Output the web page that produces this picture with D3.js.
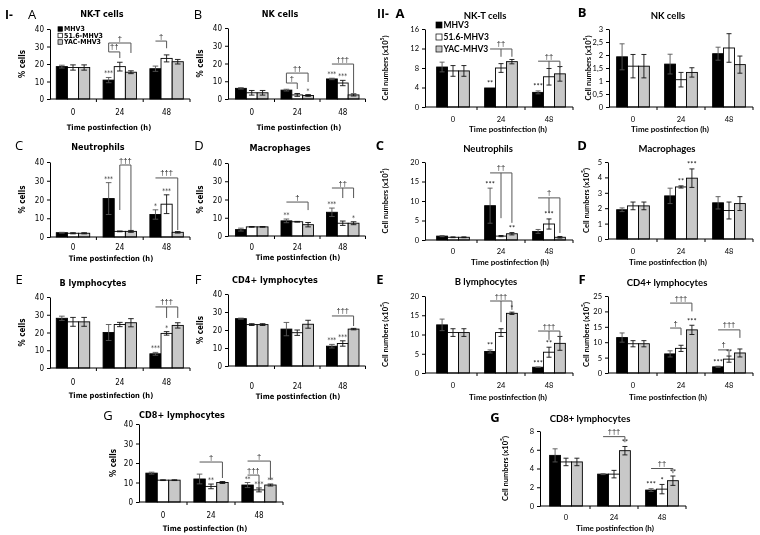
<!DOCTYPE html>
<html><head><meta charset="utf-8">
<script src="https://cdn.jsdelivr.net/npm/d3@7"></script>
<style>body{margin:0;background:#fff}svg{display:block;filter:grayscale(100%)}</style>
</head><body>
<svg id="fig" width="760" height="535"></svg>
<script>
// ---------- DATA ----------
const categories = ["0", "24", "48"];
const seriesNames = ["MHV3", "51.6-MHV3", "YAC-MHV3"];
// rows: 0, 24, 48 h ; columns: MHV3, 51.6-MHV3, YAC-MHV3
const pctNKT     = [[18.5, 18, 18], [10.8, 18.5, 15.3], [17.3, 23.2, 21.3]];
const pctNKTErr  = [[0.8, 1.5, 1.5], [1.5, 2.5, 0.8], [1.5, 2, 1.3]];
const pctNK      = [[6, 3.5, 3.5], [5, 2.3, 2], [11.3, 9, 2.3]];
const pctNKErr   = [[0.4, 1.3, 1.3], [0.5, 0.8, 0.5], [0.4, 1.5, 0.6]];
const pctNeu     = [[2.3, 2, 2], [20.5, 3, 3], [12, 17.5, 2.5]];
const pctNeuErr  = [[0.2, 0.3, 0.3], [8.5, 0.2, 0.5], [2.5, 5, 0.4]];
const pctMac     = [[3.5, 5, 5], [8.3, 7.8, 6.2], [13, 7, 7]];
const pctMacErr  = [[0.8, 0.2, 0.2], [1, 0.2, 1.2], [2.3, 1.2, 0.8]];
const pctB       = [[28, 26, 26], [20, 24.5, 25.5], [8, 19.5, 24]];
const pctBErr    = [[1.2, 2.5, 2.5], [4.5, 1.2, 2.3], [0.8, 1, 1.5]];
const pctCD4     = [[26.3, 23, 23], [20.5, 18.5, 23.2], [11, 12.5, 20.5]];
const pctCD4Err  = [[0.3, 0.5, 0.5], [3.7, 1.5, 2.2], [1, 1.5, 0.4]];
const pctCD8     = [[14.8, 11.2, 11.2], [11.8, 8, 10], [8.7, 6.2, 8.7]];
const pctCD8Err  = [[0.5, 0.2, 0.2], [2.5, 1.2, 0.5], [1.3, 1, 0.5]];

const numNKT     = [[8.2, 7.4, 7.4], [3.9, 8, 9.3], [3, 6.2, 6.8]];
const numNKTErr  = [[1, 1.1, 1.1], [0, 0.9, 0.45], [0.3, 1.7, 1.5]];
const numNK      = [[1.93, 1.57, 1.57], [1.65, 1.05, 1.33], [2.05, 2.27, 1.63]];
const numNKErr   = [[0.5, 0.45, 0.45], [0.38, 0.28, 0.18], [0.25, 0.55, 0.33]];
const numNeu     = [[1.0, 0.7, 0.7], [8.8, 1.0, 1.6], [2.2, 4.1, 0.7]];
const numNeuErr  = [[0.15, 0.1, 0.1], [4.5, 0.15, 0.3], [0.5, 1.3, 0.2]];
const numMac     = [[1.9, 2.15, 2.15], [2.8, 3.38, 3.95], [2.35, 1.85, 2.3]];
const numMacErr  = [[0.12, 0.25, 0.25], [0.5, 0.07, 0.6], [0.4, 0.55, 0.45]];
const numB       = [[12.5, 10.5, 10.5], [5.6, 10.5, 15.5], [1.5, 5.4, 7.7]];
const numBErr    = [[1.5, 1, 1], [0.4, 1, 0.3], [0.05, 1.3, 1.8]];
const numCD4     = [[11.5, 9.5, 9.5], [6.2, 8, 14], [2, 4.5, 6.5]];
const numCD4Err  = [[1.5, 1, 1], [1, 1, 1.5], [0.2, 1, 1.3]];
const numCD8     = [[5.4, 4.7, 4.7], [3.4, 3.4, 5.9], [1.7, 1.8, 2.7]];
const numCD8Err  = [[0.7, 0.4, 0.4], [0.05, 0.4, 0.45], [0.15, 0.5, 0.5]];

// significance marks: [timeIndex, seriesIndex, text]
const starsIA = [[1, 0, "***"]];
const starsIB = [[1, 2, "*"], [2, 0, "***"], [2, 1, "***"]];
const starsIC = [[1, 0, "***"], [2, 0, "*"], [2, 1, "***"]];
const starsID = [[1, 0, "**"], [2, 0, "***"], [2, 2, "*"]];
const starsIE = [[2, 0, "***"], [2, 1, "*"]];
const starsIF = [[2, 0, "***"], [2, 1, "***"]];
const starsIG = [[1, 1, "**"], [2, 0, "**"], [2, 1, "***"], [2, 2, "**"]];
const starsIIA = [[1, 0, "**"], [2, 0, "***"]];
const starsIIB = [];
const starsIIC = [[1, 0, "***"], [1, 2, "**"], [2, 1, "***"]];
const starsIID = [[1, 1, "**"], [1, 2, "***"]];
const starsIIE = [[1, 0, "**"], [1, 2, "*"], [2, 0, "***"], [2, 1, "**"]];
const starsIIF = [[1, 2, "***"], [2, 0, "***"], [2, 1, "**"]];
const starsIIG = [[1, 2, "**"], [2, 0, "***"], [2, 1, "*"], [2, 2, "**"]];

// comparison brackets: [timeIndex, fromSeries, toSeries, level, label, [[series, dropTo], ...]]
const bracketsIA = [[1, 0, 2, 32, "\u2020", [[2, 26.3], [0, 26.9]]], [1, 0, 1, 26.9, "\u2020\u2020", [[1, 23.4]]], [2, 0, 1, 33.1, "\u2020", [[1, 29]]]];
const bracketsIB = [[1, 0, 1, 9, "\u2020", [[1, 5.6]]], [1, 0, 2, 14.6, "\u2020\u2020", [[2, 9.6], [0, 9]]], [2, 0, 2, 19.7, "\u2020\u2020\u2020", [[2, 3.4]]]];
const bracketsIC = [[1, 1, 2, 38.4, "\u2020\u2020\u2020", [[1, 14.4], [2, 3.7]]], [2, 0, 2, 31.5, "\u2020\u2020\u2020", [[2, 3.7]]]];
const bracketsID = [[1, 0, 2, 18.6, "\u2020", [[2, 14.2]]], [2, 0, 2, 26.3, "\u2020\u2020", [[1, 20.8], [2, 20.8]]]];
const bracketsIE = [[2, 0, 2, 34.4, "\u2020\u2020\u2020", [[1, 28.2], [2, 28.2]]]];
const bracketsIF = [[2, 0, 2, 27.8, "\u2020\u2020\u2020", [[2, 22.2]]]];
const bracketsIG = [[1, 0, 2, 20.5, "\u2020", [[2, 12.3]]], [2, 0, 2, 21, "\u2020", [[2, 11.3]]], [2, 0, 1, 13.8, "\u2020\u2020\u2020", [[1, 7.2]]]];
const bracketsIIA = [[1, 0, 2, 11.9, "\u2020\u2020", [[1, 10.3], [2, 10.3]]], [2, 0, 2, 9.4, "\u2020\u2020", [[1, 8], [2, 8]]]];
const bracketsIIB = [];
const bracketsIIC = [[1, 0, 2, 17.2, "\u2020\u2020", [[1, 5.6], [2, 4.4]]], [2, 0, 2, 10.8, "\u2020", [[1, 6.9], [2, 1.8]]]];
const bracketsIID = [];
const bracketsIIE = [[1, 0, 2, 18.7, "\u2020\u2020\u2020", [[1, 13.2], [2, 16.4]]], [2, 0, 2, 10.9, "\u2020\u2020\u2020", [[1, 8.6], [2, 8.6]]]];
const bracketsIIF = [[1, 0, 2, 22.7, "\u2020\u2020\u2020", [[2, 20]]], [1, 0, 1, 14.6, "\u2020", [[1, 12.3]]], [2, 0, 2, 14, "\u2020\u2020\u2020", [[2, 11.4]]], [2, 0, 1, 7.5, "\u2020", [[1, 5.5]]]];
const bracketsIIG = [[1, 0, 2, 7.4, "\u2020\u2020\u2020", [[2, 6.8]]], [2, 0, 2, 4, "\u2020\u2020", [[2, 3.5]]]];

const yTicksPct = [0, 10, 20, 30, 40];
const yTicksNKT = [0, 4, 8, 12, 16];
const yTicksNK = [0, 0.5, 1, 1.5, 2, 2.5, 3];
const yTicksNeu = [0, 5, 10, 15, 20];
const yTicksMac = [0, 1, 2, 3, 4, 5];
const yTicksB = [0, 5, 10, 15, 20];
const yTicksCD4 = [0, 5, 10, 15, 20, 25];
const yTicksCD8 = [0, 2, 4, 6, 8];

// ---------- LAYOUT ----------
const FONT_I = '"Liberation Sans Narrow","DejaVu Sans Condensed","Arial Narrow",sans-serif';
const FONT_II = 'Lato,"Open Sans",sans-serif';
const FONT_DAG = '"Liberation Sans","DejaVu Sans",sans-serif';
const FILLS = ["#000000", "#ffffff", "#c8c8c8"];

const panels = [
  {st:"I", mean:pctNKT, err:pctNKTErr, ticks:yTicksPct, ax:50, bx:[49.6,190], yTop:29, yBot:99, title:"NK-T cells", tx:102, ty:14, letter:"A", lx:32, ly:14, ylx:22, tly:112, xlx:109, xly:127, stars:starsIA, br:bracketsIA, legend:true, roman:"I-", rx:9},
  {st:"I", mean:pctNK, err:pctNKErr, ticks:yTicksPct, ax:228, bx:[229,365.5], yTop:28, yBot:99, title:"NK cells", tx:280, ty:14, letter:"B", lx:198, ly:14, ylx:200, tly:112, xlx:299, xly:127, stars:starsIB, br:bracketsIB},
  {st:"I", mean:pctNeu, err:pctNeuErr, ticks:yTicksPct, ax:50, bx:[49.6,190], yTop:162, yBot:237, title:"Neutrophils", tx:98, ty:147, letter:"C", lx:19, ly:145, ylx:22, tly:247, xlx:111, xly:258, stars:starsIC, br:bracketsIC},
  {st:"I", mean:pctMac, err:pctMacErr, ticks:yTicksPct, ax:228, bx:[229,365.5], yTop:163, yBot:236, title:"Macrophages", tx:280, ty:148, letter:"D", lx:199, ly:145, ylx:200, tly:247, xlx:298, xly:257, stars:starsID, br:bracketsID},
  {st:"I", mean:pctB, err:pctBErr, ticks:yTicksPct, ax:50, bx:[49.6,190], yTop:297, yBot:368, title:"B lymphocytes", tx:93, ty:283, letter:"E", lx:19, ly:279, ylx:22, tly:382, xlx:111, xly:395, stars:starsIE, br:bracketsIE},
  {st:"I", mean:pctCD4, err:pctCD4Err, ticks:yTicksPct, ax:228, bx:[229,365.5], yTop:294, yBot:366, title:"CD4+ lymphocytes", tx:275, ty:280, letter:"F", lx:198, ly:279, ylx:200, tly:386, xlx:298, xly:396, stars:starsIF, br:bracketsIF},
  {st:"I", mean:pctCD8, err:pctCD8Err, ticks:yTicksPct, ax:139, bx:[139,283], yTop:424, yBot:502, title:"CD8+ lymphocytes", tx:182, ty:415, letter:"G", lx:108, ly:415, ylx:113, tly:515, xlx:205, xly:528, stars:starsIG, br:bracketsIG},
  {st:"II", mean:numNKT, err:numNKTErr, ticks:yTicksNKT, ax:425, bx:[429,573], yTop:29, yBot:107, title:"NK-T cells", tx:485, ty:15, letter:"A", lx:400, ly:13, ylx:385, tly:119.5, xlx:508, xly:129, stars:starsIIA, br:bracketsIIA, legend:true, roman:"II-", rx:383},
  {st:"II", mean:numNK, err:numNKErr, ticks:yTicksNK, ax:609, bx:[609,753], yTop:29, yBot:107, title:"NK cells", tx:668, ty:15, letter:"B", lx:582, ly:12, ylx:588, tly:119.5, xlx:670, xly:129, stars:starsIIB, br:bracketsIIB},
  {st:"II", mean:numNeu, err:numNeuErr, ticks:yTicksNeu, ax:425, bx:[429,573], yTop:162, yBot:240, title:"Neutrophils", tx:488, ty:148, letter:"C", lx:380, ly:145, ylx:385, tly:251, xlx:510, xly:261.5, stars:starsIIC, br:bracketsIIC},
  {st:"II", mean:numMac, err:numMacErr, ticks:yTicksMac, ax:608, bx:[609,753], yTop:162, yBot:239, title:"Macrophages", tx:667, ty:148, letter:"D", lx:582, ly:145, ylx:586, tly:251, xlx:668, xly:261.5, stars:starsIID, br:bracketsIID},
  {st:"II", mean:numB, err:numBErr, ticks:yTicksB, ax:425, bx:[429,573], yTop:296, yBot:373, title:"B lymphocytes", tx:486, ty:281, letter:"E", lx:380, ly:279, ylx:385, tly:385.5, xlx:508, xly:396.5, stars:starsIIE, br:bracketsIIE},
  {st:"II", mean:numCD4, err:numCD4Err, ticks:yTicksCD4, ax:608, bx:[609,753], yTop:296, yBot:373, title:"CD4+ lymphocytes", tx:667, ty:282, letter:"F", lx:582, ly:279, ylx:586, tly:385.5, xlx:668, xly:396.5, stars:starsIIF, br:bracketsIIF},
  {st:"II", mean:numCD8, err:numCD8Err, ticks:yTicksCD8, ax:540, bx:[542,686], yTop:431, yBot:506, title:"CD8+ lymphocytes", tx:590, ty:418, letter:"G", lx:495, ly:417, ylx:505, tly:517, xlx:615, xly:528, stars:starsIIG, br:bracketsIIG}
];

const svg = d3.select("#fig");
svg.append("rect").attr("width", 760).attr("height", 535).attr("fill", "#fff");

function txt(g, x, y, s, o) {
  return g.append("text").attr("x", x).attr("y", y).text(s)
    .attr("text-anchor", o.anchor || "middle").attr("dominant-baseline", "central")
    .attr("font-family", o.font).attr("font-size", o.size).attr("font-weight", o.weight || "normal")
    .attr("fill", o.fill || "#000");
}

function drawPanel(p) {
  const I = p.st === "I";
  const F = I ? FONT_I : FONT_II;
  const g = svg.append("g");
  const maxV = p.ticks[p.ticks.length - 1];
  const y = d3.scaleLinear().domain([0, maxV]).range([p.yBot, p.yTop]);
  const x = d3.scaleBand().domain(categories).range(p.bx);
  const xs = d3.scaleBand().domain([0, 1, 2]).range([0, x.bandwidth()]).paddingOuter(I ? 0.6 : 0.7).paddingInner(0);
  const rows = [];
  p.mean.forEach((r, gi) => r.forEach((v, si) => rows.push({gi, si, v, e: p.err[gi][si]})));
  const cx = (gi, si) => x(categories[gi]) + xs(si) + xs.bandwidth() / 2;

  // bars
  g.selectAll("rect.bar").data(rows).join("rect")
    .attr("x", d => x(categories[d.gi]) + xs(d.si))
    .attr("y", d => y(d.v))
    .attr("width", xs.bandwidth())
    .attr("height", d => y(0) - y(d.v))
    .attr("fill", d => FILLS[d.si]).attr("stroke", "#000").attr("stroke-width", 0.9);

  // error bars
  const cap = I ? 2.8 : 2.5;
  rows.filter(d => d.e > 0).forEach(d => {
    const c = cx(d.gi, d.si);
    const lo = y(Math.max(0, d.v - d.e)), hi = y(d.v + d.e);
    const col = d.si === 0 ? "#555" : "#111";
    g.append("line").attr("x1", c).attr("x2", c).attr("y1", lo).attr("y2", hi).attr("stroke", col).attr("stroke-width", 0.9);
    [lo, hi].forEach(yy => g.append("line").attr("x1", c - cap).attr("x2", c + cap).attr("y1", yy).attr("y2", yy).attr("stroke", col).attr("stroke-width", 0.9));
  });

  // y axis
  const fmt = d => String(d).replace(".", ",");
  const ya = g.append("g").attr("transform", `translate(${p.ax},0)`)
    .call(d3.axisLeft(y).tickValues(p.ticks).tickSize(3).tickSizeOuter(0).tickPadding(3).tickFormat(fmt));
  ya.select(".domain").attr("stroke", "#000");
  ya.selectAll(".tick line").attr("stroke", "#000");
  ya.selectAll(".tick text").attr("font-family", F).attr("font-size", I ? 8 : 7.5).attr("fill", "#000");

  // x axis line + ticks
  g.append("line").attr("x1", p.ax).attr("x2", p.bx[1]).attr("y1", y(0)).attr("y2", y(0)).attr("stroke", "#000");
  [1, 2, 3].forEach(k => {
    const xx = p.bx[0] + k * x.bandwidth();
    g.append("line").attr("x1", xx).attr("x2", xx).attr("y1", y(0)).attr("y2", y(0) + 3).attr("stroke", "#000");
  });
  categories.forEach(c => txt(g, x(c) + x.bandwidth() / 2, p.tly, c, {font: F, size: I ? 8 : 7.5}));

  // axis titles
  txt(g, p.xlx, p.xly, "Time postinfection  (h)", {font: F, size: I ? 7.5 : 8, weight: "bold"});
  const ycy = (p.yTop + p.yBot) / 2;
  if (I) {
    txt(g, 0, 0, "% cells", {font: F, size: 8, weight: "bold"}).attr("transform", `translate(${p.ylx},${ycy}) rotate(-90)`);
  } else {
    const t = txt(g, 0, 0, "Cell numbers (x10", {font: F, size: 7.5, weight: "bold"}).attr("transform", `translate(${p.ylx},${ycy}) rotate(-90)`);
    t.append("tspan").attr("font-size", 5).attr("dy", -3).text("5");
    t.append("tspan").attr("dy", 3).text(")");
  }

  // titles and letters
  txt(g, p.tx, p.ty, p.title, {font: F, size: I ? 9 : 9.5, weight: "bold"});
  txt(g, p.lx, p.ly, p.letter, {font: '"Open Sans",sans-serif', size: 13, weight: I ? "normal" : "bold"});
  if (p.roman) txt(g, p.rx, p.ly, p.roman, {font: '"Open Sans",sans-serif', size: 12, weight: "bold"});

  // stars
  p.stars.forEach(([gi, si, s]) => {
    const v = p.mean[gi][si] + p.err[gi][si];
    txt(g, cx(gi, si), y(v) - 4, s, {font: F, size: I ? 6.5 : 7.5, fill: "#222"});
  });
  // brackets
  p.br.forEach(([gi, a, b, lev, lab, drops]) => {
    const x1 = cx(gi, a), x2 = cx(gi, b), yy = y(lev);
    const st = "#555";
    g.append("line").attr("x1", x1).attr("x2", x2).attr("y1", yy).attr("y2", yy).attr("stroke", st).attr("stroke-width", 1);
    drops.forEach(([s, to]) => {
      const xx = cx(gi, s);
      g.append("line").attr("x1", xx).attr("x2", xx).attr("y1", yy).attr("y2", y(to)).attr("stroke", st).attr("stroke-width", 1);
    });
    txt(g, (x1 + x2) / 2, yy - 5, lab, {font: FONT_DAG, size: 7.5, fill: "#222"});
  });

  // legend
  if (p.legend) {
    const lg = g.append("g");
    const lx = I ? 58 : 436, ly0 = I ? 29 : 25, dy = I ? 6.5 : 12, sz = I ? 4.5 : 6;
    seriesNames.forEach((n, i) => {
      lg.append("rect").attr("x", lx).attr("y", ly0 + i * dy - sz / 2).attr("width", sz).attr("height", sz)
        .attr("fill", FILLS[i]).attr("stroke", "#000").attr("stroke-width", 0.7);
      txt(lg, lx + sz + 1.5, ly0 + i * dy, n, {font: F, size: I ? 7 : 8.5, anchor: "start", weight: "bold"});
    });
  }
}

panels.forEach(drawPanel);
</script>
</body></html>
